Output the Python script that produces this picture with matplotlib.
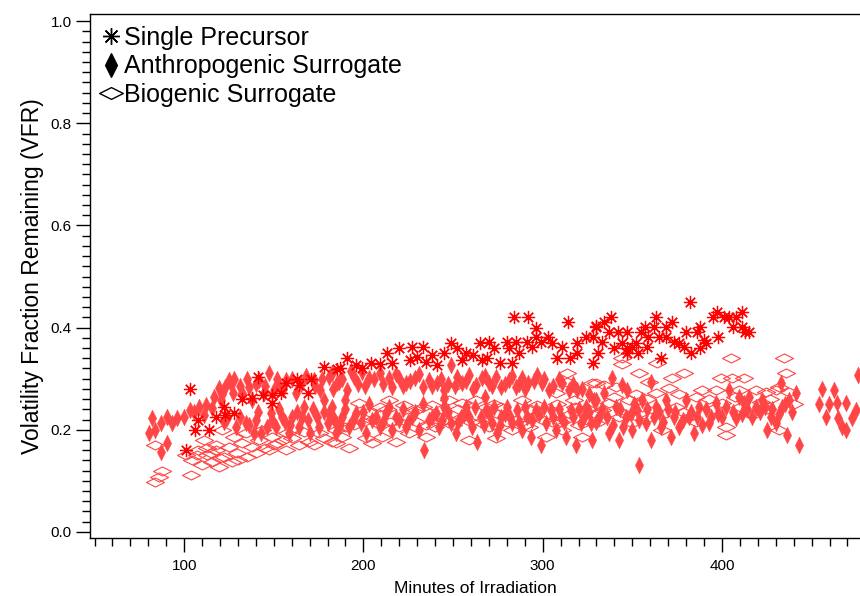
import matplotlib
matplotlib.use('Agg')
import matplotlib.pyplot as plt
from matplotlib.path import Path
from matplotlib.lines import Line2D
from matplotlib.ticker import MultipleLocator

plt.rcParams['font.family'] = ['Liberation Sans', 'DejaVu Sans']

# Single Precursor (asterisks)
sp_min = [101, 103, 106, 108, 114, 118, 122, 123, 128, 132,
          138, 141, 144, 149, 149, 154, 157, 163, 164, 169,
          171, 178, 185, 187, 191, 196, 199, 204, 209, 213,
          216, 220, 226, 227, 230, 233, 235, 238, 241, 245,
          249, 252, 255, 257, 261, 265, 266, 269, 270, 273,
          276, 280, 281, 283, 284, 285, 287, 291, 292, 294,
          296, 296, 299, 303, 305, 308, 311, 314, 315, 319,
          319, 324, 328, 328, 330, 330, 331, 333, 334, 337,
          338, 340, 342, 344, 347, 347, 347, 350, 352, 353,
          355, 357, 358, 359, 362, 363, 365, 366, 369, 369,
          372, 373, 376, 379, 380, 382, 383, 386, 388, 388,
          390, 391, 395, 397, 398, 401, 404, 406, 408, 411,
          411, 413, 415]
sp_vfr = [0.160, 0.279, 0.200, 0.220, 0.200, 0.225, 0.245, 0.229, 0.233, 0.260,
          0.262, 0.303, 0.268, 0.252, 0.268, 0.272, 0.292, 0.299, 0.288, 0.272,
          0.300, 0.323, 0.319, 0.321, 0.340, 0.327, 0.321, 0.330, 0.329, 0.350,
          0.331, 0.360, 0.336, 0.362, 0.343, 0.362, 0.333, 0.346, 0.327, 0.350,
          0.370, 0.360, 0.336, 0.350, 0.346, 0.370, 0.336, 0.340, 0.372, 0.360,
          0.331, 0.372, 0.360, 0.330, 0.420, 0.372, 0.350, 0.372, 0.420, 0.362,
          0.400, 0.382, 0.372, 0.382, 0.370, 0.340, 0.362, 0.411, 0.340, 0.370,
          0.350, 0.382, 0.382, 0.331, 0.403, 0.401, 0.350, 0.372, 0.411, 0.391,
          0.421, 0.360, 0.391, 0.370, 0.391, 0.360, 0.350, 0.362, 0.370, 0.350,
          0.391, 0.401, 0.362, 0.382, 0.401, 0.421, 0.382, 0.340, 0.401, 0.382,
          0.411, 0.372, 0.370, 0.362, 0.391, 0.450, 0.350, 0.391, 0.401, 0.360,
          0.376, 0.370, 0.421, 0.430, 0.382, 0.421, 0.421, 0.401, 0.421, 0.430,
          0.401, 0.391, 0.391]

# Anthropogenic Surrogate (filled diamonds)
anth_min = [80.5, 82, 84, 87, 87, 90.5, 90.5, 93, 96, 100,
            103, 105.6, 108.4, 111, 112, 116.7, 115.6, 119.5, 120.6, 123,
            124, 125, 128, 127, 129, 132, 134.5, 136, 138, 139,
            142, 143, 144.6, 147.4, 148.5, 150, 151, 153, 154.6, 157,
            158.6, 160, 162.5, 164, 167, 170, 172.5, 174, 176, 178,
            180, 181, 182.5, 184.5, 185, 140, 146, 156, 166, 175,
            178, 182.5, 186.5, 191, 195, 199, 203, 209, 214, 216,
            220, 224, 229, 233, 236.6, 241, 245, 249, 252, 255,
            259, 263, 266, 270, 274, 277, 281, 285, 288.5, 292,
            297, 299.7, 303.6, 311, 314.7, 319, 190, 245, 268, 181,
            184.8, 188, 192, 196, 198.7, 201.5, 205, 209, 212.7, 216,
            220, 223.8, 227, 231, 234, 236.6, 240.5, 242, 245, 249,
            251.7, 254.5, 257, 260.6, 263.4, 265.6, 268.4, 271.8, 274.6, 277,
            280, 283, 285.7, 288.5, 291.3, 293.5, 296, 299, 302, 304.7,
            307.5, 310, 313, 315.8, 318.6, 321.4, 324, 327, 329.8, 327.6,
            328.7, 331.5, 334, 337, 338.7, 341, 342.6, 344, 346.5, 347,
            350, 352.7, 353.8, 355.4, 357.7, 360.5, 360.5, 363, 366, 368.8,
            371.6, 373, 376, 380, 381.7, 384.4, 387, 389, 392.8, 396.7,
            400, 404, 408, 409.5, 412.3, 415, 419, 422.4, 425, 427.4,
            430, 433, 433.5, 436.3, 437.4, 441.3, 443, 454, 456, 458,
            459.7, 462.5, 464, 465, 467, 469, 469, 472.6, 474.8, 476,
            121, 126, 131, 135, 140, 145, 152, 155, 160, 165,
            168, 173, 177, 183, 188, 193, 197, 201, 206, 211,
            218, 222, 226, 231, 238, 243, 247, 251, 257, 261,
            268, 272, 279, 283, 287, 290, 295, 301, 306, 309,
            317, 322, 326, 122, 131, 136, 141, 149, 153, 159,
            163, 169, 172, 183, 187, 190, 194, 200, 203, 207,
            211, 214, 218, 222, 225, 229, 233, 238, 244, 247,
            253, 256, 259, 262, 267, 270, 273, 276, 279, 282,
            287, 290, 294, 298, 301, 306, 309, 312, 317, 320,
            323, 326, 330, 333, 336, 339, 343, 345, 349, 351,
            354, 358, 362, 365, 367, 370, 374, 378, 383, 386,
            391, 394, 398, 402, 406, 411, 414, 417, 421, 424,
            428, 432, 435, 439]
anth_vfr = [0.193, 0.223, 0.200, 0.157, 0.213, 0.174, 0.225, 0.213, 0.223, 0.225,
            0.239, 0.235, 0.245, 0.229, 0.248, 0.264, 0.243, 0.282, 0.258, 0.284,
            0.223, 0.297, 0.300, 0.272, 0.205, 0.272, 0.213, 0.284, 0.258, 0.193,
            0.297, 0.193, 0.272, 0.311, 0.233, 0.278, 0.205, 0.288, 0.225, 0.297,
            0.193, 0.225, 0.272, 0.205, 0.245, 0.193, 0.297, 0.225, 0.278, 0.258,
            0.213, 0.303, 0.245, 0.193, 0.291, 0.220, 0.205, 0.215, 0.225, 0.205,
            0.235, 0.311, 0.294, 0.278, 0.303, 0.313, 0.301, 0.311, 0.301, 0.284,
            0.301, 0.291, 0.301, 0.284, 0.297, 0.291, 0.278, 0.327, 0.303, 0.291,
            0.307, 0.288, 0.301, 0.291, 0.303, 0.284, 0.297, 0.284, 0.301, 0.291,
            0.307, 0.291, 0.278, 0.291, 0.278, 0.278, 0.258, 0.262, 0.264, 0.233,
            0.213, 0.225, 0.205, 0.233, 0.213, 0.193, 0.219, 0.205, 0.233, 0.200,
            0.219, 0.205, 0.225, 0.200, 0.160, 0.219, 0.233, 0.205, 0.245, 0.213,
            0.193, 0.225, 0.245, 0.205, 0.176, 0.225, 0.239, 0.213, 0.193, 0.225,
            0.245, 0.213, 0.239, 0.200, 0.225, 0.186, 0.239, 0.170, 0.213, 0.239,
            0.200, 0.225, 0.186, 0.239, 0.170, 0.213, 0.245, 0.213, 0.258, 0.180,
            0.258, 0.225, 0.272, 0.193, 0.301, 0.245, 0.180, 0.288, 0.225, 0.278,
            0.200, 0.239, 0.131, 0.258, 0.213, 0.294, 0.180, 0.245, 0.205, 0.258,
            0.186, 0.225, 0.205, 0.258, 0.225, 0.193, 0.245, 0.209, 0.213, 0.252,
            0.225, 0.278, 0.223, 0.264, 0.252, 0.264, 0.245, 0.258, 0.200, 0.225,
            0.213, 0.291, 0.245, 0.190, 0.258, 0.272, 0.170, 0.250, 0.280, 0.225,
            0.250, 0.278, 0.252, 0.223, 0.205, 0.252, 0.200, 0.223, 0.238, 0.307,
            0.270, 0.290, 0.285, 0.300, 0.290, 0.285, 0.300, 0.280, 0.300, 0.290,
            0.305, 0.285, 0.300, 0.280, 0.300, 0.315, 0.290, 0.285, 0.300, 0.290,
            0.310, 0.285, 0.295, 0.310, 0.285, 0.300, 0.290, 0.285, 0.295, 0.280,
            0.305, 0.285, 0.290, 0.305, 0.290, 0.280, 0.295, 0.300, 0.285, 0.300,
            0.290, 0.280, 0.270, 0.215, 0.225, 0.210, 0.235, 0.220, 0.240, 0.210,
            0.235, 0.220, 0.240, 0.225, 0.210, 0.240, 0.220, 0.235, 0.250, 0.225,
            0.215, 0.245, 0.225, 0.240, 0.215, 0.235, 0.250, 0.225, 0.220, 0.235,
            0.215, 0.230, 0.225, 0.245, 0.210, 0.230, 0.245, 0.210, 0.230, 0.225,
            0.215, 0.245, 0.220, 0.230, 0.245, 0.225, 0.240, 0.215, 0.225, 0.240,
            0.225, 0.235, 0.215, 0.240, 0.225, 0.210, 0.240, 0.205, 0.230, 0.250,
            0.220, 0.240, 0.225, 0.235, 0.215, 0.240, 0.235, 0.220, 0.235, 0.225,
            0.240, 0.225, 0.230, 0.245, 0.235, 0.230, 0.240, 0.225, 0.235, 0.245,
            0.240, 0.230, 0.250, 0.235]

# Biogenic Surrogate (open diamonds)
bio_min = [84, 86, 87.7, 103.8, 84, 101, 104.6, 107, 110, 111,
           112.8, 115.6, 117.8, 119.5, 121, 122.3, 125, 126.8, 127.9, 129.6,
           132.3, 134.6, 135, 138, 141.8, 143.5, 147.4, 149, 151.8, 157,
           157.4, 160, 164, 167, 169.7, 172.5, 175, 178, 182.5, 184.8,
           115, 120, 130, 140, 145, 150, 155, 118, 108, 113,
           184.8, 188, 192, 197.6, 201.5, 205, 209, 210.4, 214, 218,
           222.7, 225.5, 229.4, 235, 238.3, 242, 247.8, 252.3, 255, 259,
           262.8, 268.4, 274, 277, 283, 288.5, 292.4, 297, 302, 307.5,
           311, 313.6, 313.6, 317.5, 322, 327.6, 329.8, 344, 344, 353.8,
           329.8, 334, 341, 359.3, 372, 379, 363.8, 399.5, 405, 405.6,
           412.3, 434.6, 435.7, 432, 337, 348, 363, 370.5, 385.5, 389,
           396.7, 400, 409.5, 416.8, 419, 424.6, 430, 437.4, 342.6, 355.4,
           368.8, 374.4, 381.7, 385.5, 402.3, 402.3, 416.8, 432, 366.6, 350,
           333, 195, 205, 215, 225, 235, 245, 255, 265, 275,
           285, 295, 305, 315, 325, 190, 200, 210, 220, 230,
           240, 250, 260, 270, 280, 290, 300, 310, 320, 330,
           203, 213, 233, 253, 273, 293, 308, 318, 340, 352,
           358, 376, 393, 407, 422, 427, 346, 360, 378, 395,
           410, 425, 440]
bio_vfr = [0.098, 0.108, 0.119, 0.112, 0.170, 0.151, 0.141, 0.151, 0.131, 0.180,
           0.151, 0.137, 0.160, 0.127, 0.200, 0.147, 0.166, 0.137, 0.186, 0.155,
           0.174, 0.193, 0.147, 0.166, 0.180, 0.200, 0.160, 0.186, 0.174, 0.160,
           0.193, 0.184, 0.170, 0.196, 0.176, 0.170, 0.193, 0.184, 0.176, 0.200,
           0.155, 0.145, 0.140, 0.155, 0.165, 0.170, 0.180, 0.170, 0.160, 0.165,
           0.174, 0.186, 0.164, 0.252, 0.184, 0.174, 0.245, 0.186, 0.258, 0.176,
           0.248, 0.193, 0.239, 0.186, 0.248, 0.225, 0.258, 0.288, 0.252, 0.180,
           0.258, 0.245, 0.184, 0.245, 0.200, 0.258, 0.205, 0.248, 0.186, 0.272,
           0.200, 0.311, 0.294, 0.258, 0.186, 0.291, 0.213, 0.340, 0.329, 0.311,
           0.291, 0.288, 0.284, 0.294, 0.301, 0.311, 0.331, 0.301, 0.340, 0.301,
           0.301, 0.340, 0.311, 0.284, 0.252, 0.258, 0.272, 0.282, 0.264, 0.278,
           0.278, 0.252, 0.278, 0.233, 0.278, 0.274, 0.278, 0.274, 0.225, 0.245,
           0.233, 0.245, 0.225, 0.215, 0.190, 0.205, 0.229, 0.200, 0.200, 0.213,
           0.239, 0.210, 0.220, 0.215, 0.225, 0.210, 0.220, 0.225, 0.215, 0.230,
           0.220, 0.225, 0.215, 0.230, 0.240, 0.205, 0.215, 0.210, 0.205, 0.215,
           0.205, 0.210, 0.215, 0.205, 0.215, 0.210, 0.220, 0.215, 0.210, 0.230,
           0.235, 0.240, 0.245, 0.240, 0.250, 0.240, 0.250, 0.245, 0.265, 0.270,
           0.260, 0.270, 0.260, 0.265, 0.255, 0.260, 0.230, 0.225, 0.235, 0.240,
           0.245, 0.240, 0.250]

# marker shapes: tall filled diamond, wide open diamond
tall_diamond = Path([(0, 1), (0.5, 0), (0, -1), (-0.5, 0), (0, 1)], closed=True)
wide_diamond = Path([(1, 0), (0, 0.5), (-1, 0), (0, -0.5), (1, 0)], closed=True)
asterisk = (8, 2, 0)

red = '#ff0000'
light_red = '#ff4545'

fig = plt.figure(figsize=(8.6, 5.96), dpi=100)
ax = fig.add_axes([0.1047, 0.0973, 0.8953, 0.8792])

ax.plot(anth_min, anth_vfr, linestyle='none', marker=tall_diamond, ms=12,
        color=light_red, mec=light_red, mew=0.3)
ax.plot(bio_min, bio_vfr, linestyle='none', marker=wide_diamond, ms=13,
        mfc='none', mec=light_red, mew=0.8)
ax.plot(sp_min, sp_vfr, linestyle='none', marker=asterisk, ms=9.5,
        color=red, mec=red, mew=0.9)

ax.set_xlim(47.5, 477)
ax.set_ylim(-0.012, 1.014)

ax.spines['right'].set_visible(False)
for s in ['left', 'bottom', 'top']:
    ax.spines[s].set_linewidth(1.0)

ax.xaxis.set_major_locator(MultipleLocator(100))
ax.xaxis.set_minor_locator(MultipleLocator(10))
ax.yaxis.set_major_locator(MultipleLocator(0.2))
ax.yaxis.set_minor_locator(MultipleLocator(0.02))
ax.yaxis.set_major_formatter(plt.FuncFormatter(lambda v, p: f'{v:.1f}'))
ax.tick_params(axis='both', which='major', direction='out', length=10, width=1.0,
               labelsize=11)
ax.tick_params(axis='both', which='minor', direction='out', length=6, width=1.0)
ax.tick_params(axis='x', which='major', pad=5)
ax.tick_params(axis='y', which='major', pad=3)

ax.set_xlabel('Minutes of Irradiation', fontsize=12.5, labelpad=6)
ax.set_ylabel('Volatility Fraction Remaining (VFR)', fontsize=16.5, labelpad=5)

handles = [
    Line2D([], [], linestyle='none', marker=asterisk, ms=12, color='black', mew=1.0),
    Line2D([], [], linestyle='none', marker=tall_diamond, ms=17, color='black'),
    Line2D([], [], linestyle='none', marker=wide_diamond, ms=17, mfc='none',
           mec='black', mew=1.0),
]
labels = ['Single Precursor', 'Anthropogenic Surrogate', 'Biogenic Surrogate']
ax.legend(handles, labels, loc='upper left', bbox_to_anchor=(0.004, 0.987),
          frameon=False, fontsize=18, handlelength=1.0, handletextpad=0.05,
          labelspacing=0.18, borderaxespad=0.1, borderpad=0.1)

fig.savefig('out.png', dpi=100)
